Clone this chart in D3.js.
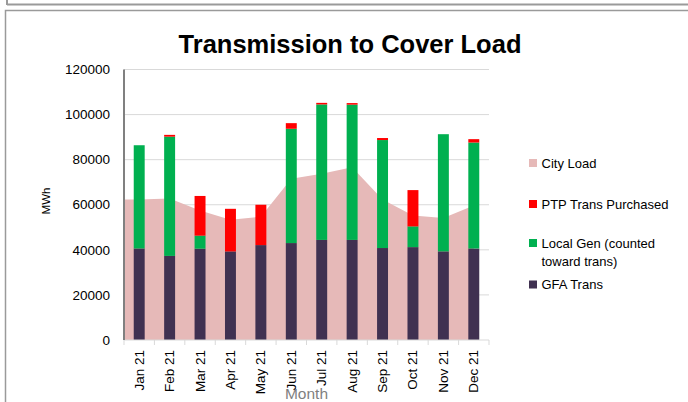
<!DOCTYPE html>
<html>
<head>
<meta charset="utf-8">
<script src="https://cdn.jsdelivr.net/npm/d3@7"></script>
<style>
  html, body { margin: 0; padding: 0; background: #fff; }
  svg { display: block; font-family: "Liberation Sans", Arial, sans-serif; }
</style>
</head>
<body>
<svg id="chart" width="688" height="402"></svg>
<script>
const months = ["Jan 21","Feb 21","Mar 21","Apr 21","May 21","Jun 21","Jul 21","Aug 21","Sep 21","Oct 21","Nov 21","Dec 21"];
const gfaTrans = [40600, 37300, 40500, 39300, 42100, 43000, 44400, 44400, 40800, 41200, 39300, 40600];
const localGen = [45800, 52900, 5800, 0, 0, 50700, 60100, 60000, 47900, 9200, 52000, 47000];
const ptpTrans = [0, 800, 17600, 18900, 17900, 2500, 700, 700, 900, 16100, 0, 1500];
const cityLoad = [62300, 62800, 57400, 53400, 54700, 71500, 73800, 76600, 62300, 55200, 54100, 59700];
const yTicks = [0, 20000, 40000, 60000, 80000, 100000, 120000];

const seriesNames = ["GFA Trans", "Local Gen (counted toward trans)", "PTP Trans Purchased"];
const colors = {
  "GFA Trans": "#403151",
  "Local Gen (counted toward trans)": "#00B050",
  "PTP Trans Purchased": "#FF0000",
  "City Load": "#E6B9B8"
};

const svg = d3.select("#chart");
const plotL = 124, plotR = 489, plotT = 69.5, plotB = 340;

// frames
svg.append("line").attr("x1", 7).attr("x2", 688).attr("y1", 4.5).attr("y2", 4.5)
  .attr("stroke", "#9a9a9a").attr("stroke-width", 2);
svg.append("line").attr("x1", 7).attr("x2", 7).attr("y1", 0).attr("y2", 5)
  .attr("stroke", "#9a9a9a").attr("stroke-width", 2);
svg.append("path").attr("d", "M5.5,402 V10.5 H688")
  .attr("fill", "none").attr("stroke", "#9a9a9a").attr("stroke-width", 1.5);

const x = d3.scaleBand().domain(months).range([plotL, plotR]).paddingInner(0.64).paddingOuter(0.32);
const step = x.step();
const y = d3.scaleLinear().domain([0, 120000]).range([plotB, plotT]);

// gridlines
svg.append("g").selectAll("line").data(yTicks.filter(d => d > 0)).join("line")
  .attr("x1", plotL).attr("x2", plotR)
  .attr("y1", d => y(d)).attr("y2", d => y(d))
  .attr("stroke", "#d9d9d9").attr("stroke-width", 1);

// area (City Load)
const areaPts = [[plotL, cityLoad[0]]].concat(months.map((m, i) => [x(m) + x.bandwidth() / 2, cityLoad[i]]));
const area = d3.area().x(d => d[0]).y0(y(0)).y1(d => y(d[1]));
svg.append("path").datum(areaPts).attr("d", area).attr("fill", colors["City Load"]);

// stacked bars
const table = months.map((m, i) => ({
  month: m,
  "GFA Trans": gfaTrans[i],
  "Local Gen (counted toward trans)": localGen[i],
  "PTP Trans Purchased": ptpTrans[i]
}));
const stacked = d3.stack().keys(seriesNames)(table);
svg.append("g").selectAll("g").data(stacked).join("g")
  .attr("fill", d => colors[d.key])
  .selectAll("rect").data(d => d).join("rect")
  .attr("x", d => x(d.data.month))
  .attr("width", x.bandwidth())
  .attr("y", d => y(d[1]))
  .attr("height", d => y(d[0]) - y(d[1]));

// x axis line and ticks
svg.append("line").attr("x1", plotL).attr("x2", plotR).attr("y1", plotB).attr("y2", plotB)
  .attr("stroke", "#d9d9d9").attr("stroke-width", 1);
const tickXs = d3.range(months.length + 1).map(i => plotL + i * step);
svg.append("g").selectAll("line").data(tickXs).join("line")
  .attr("x1", d => d).attr("x2", d => d).attr("y1", plotB).attr("y2", plotB + 5)
  .attr("stroke", "#d9d9d9").attr("stroke-width", 1);

// y axis line
svg.append("line").attr("x1", plotL).attr("x2", plotL).attr("y1", plotT).attr("y2", plotB)
  .attr("stroke", "#808080").attr("stroke-width", 2);

// y tick labels
svg.append("g").selectAll("text").data(yTicks).join("text")
  .attr("x", 110).attr("y", d => y(d)).attr("dy", "0.35em")
  .attr("text-anchor", "end").attr("font-size", 13.5).attr("fill", "#000")
  .text(d => d);

// x labels
svg.append("g").selectAll("text").data(months).join("text")
  .attr("transform", m => `translate(${x(m) + x.bandwidth() / 2 + 4.5},350) rotate(-90)`)
  .attr("text-anchor", "end").attr("font-size", 13.5).attr("fill", "#000")
  .text(m => m);

// axis titles
svg.append("text").attr("x", (plotL + plotR) / 2).attr("y", 399)
  .attr("text-anchor", "middle").attr("font-size", 15.5).attr("fill", "#7f7f7f").text("Month");
svg.append("text").attr("transform", "translate(49.5,201) rotate(-90)")
  .attr("text-anchor", "middle").attr("font-size", 11.5).attr("fill", "#000").text("MWh");

// title
svg.append("text").attr("x", 350).attr("y", 53)
  .attr("text-anchor", "middle").attr("font-size", 25.5).attr("font-weight", "bold")
  .attr("fill", "#000").text("Transmission to Cover Load");

// legend
const legendItems = [
  { key: "City Load", lines: ["City Load"], y: 163 },
  { key: "PTP Trans Purchased", lines: ["PTP Trans Purchased"], y: 204 },
  { key: "Local Gen (counted toward trans)", lines: ["Local Gen (counted", "toward trans)"], y: 243 },
  { key: "GFA Trans", lines: ["GFA Trans"], y: 284.5 }
];
const lg = svg.append("g").selectAll("g").data(legendItems).join("g");
lg.append("rect").attr("x", 529).attr("y", d => d.y - 4).attr("width", 8).attr("height", 8)
  .attr("fill", d => colors[d.key]);
lg.append("text").attr("x", 541.5).attr("y", d => d.y + 4.5)
  .attr("font-size", 13).attr("fill", "#000")
  .selectAll("tspan").data(d => d.lines).join("tspan")
  .attr("x", 541.5).attr("dy", (d, i) => i === 0 ? 0 : 18.5).text(d => d);
</script>
</body>
</html>
